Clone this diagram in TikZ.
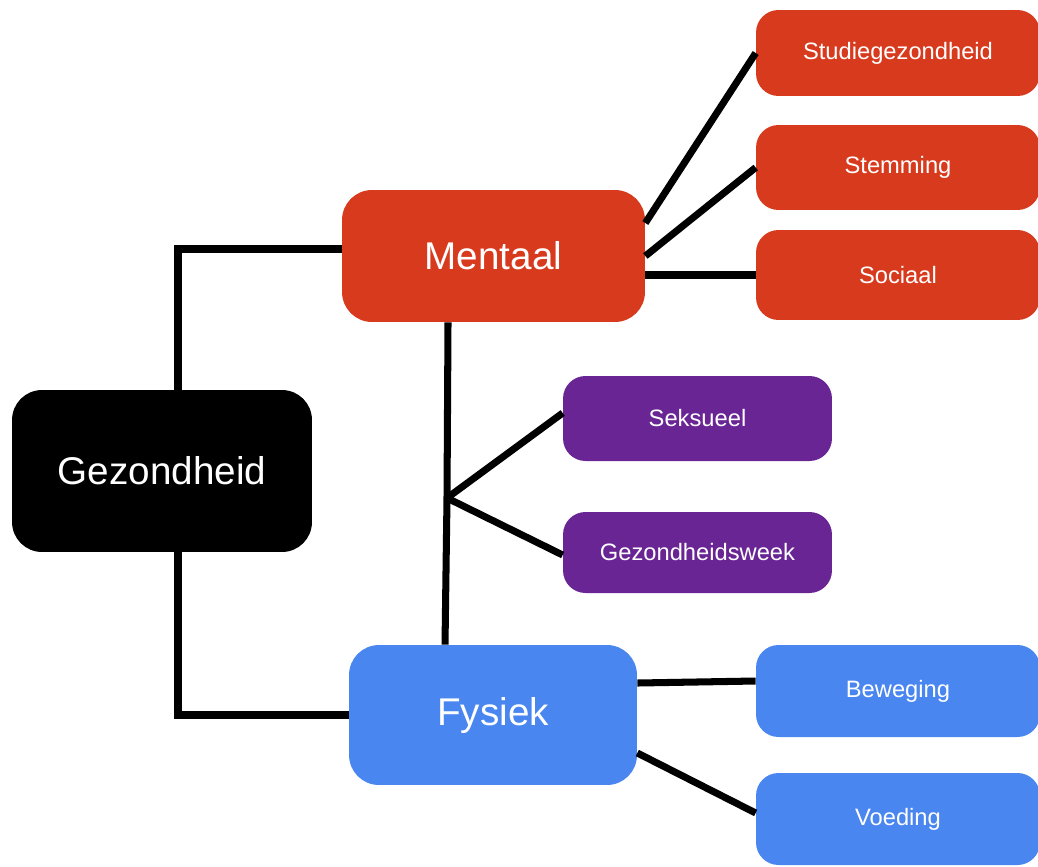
\documentclass[tikz,border=0pt]{standalone}
\usepackage{fontspec}
\setsansfont{Liberation Sans}
\usepackage{xcolor}
\usepackage{tikz}
\usetikzlibrary{positioning, calc}
\definecolor{mentaalred}{RGB}{216, 58, 30}
\definecolor{fysiekblue}{RGB}{74, 134, 240}
\definecolor{seksuuelpurple}{RGB}{106, 37, 149}

\begin{document}
\begin{tikzpicture}[
    x=0.02cm, y=-0.02cm,
    bigbox/.style={rounded corners=0.6cm, inner sep=0pt, align=center, text=white, font=\sffamily\fontsize{22}{26}\selectfont},
    smallbox/.style={rounded corners=0.45cm, inner sep=0pt, align=center, text=white, font=\sffamily\fontsize{13.5}{16}\selectfont, minimum width=5.68cm},
    link/.style={line width=4pt, black}
]
    \useasboundingbox (0,0) rectangle (1038,866);

    % main nodes
    \node[bigbox, fill=black, minimum width=6cm, minimum height=3.24cm] (gez) at (162,471) {Gezondheid};
    \node[bigbox, fill=mentaalred, minimum width=6.06cm, minimum height=2.64cm] (ment) at (493.5,256) {Mentaal};
    \node[bigbox, fill=fysiekblue, minimum width=5.76cm, minimum height=2.8cm] (fys) at (493,715) {Fysiek};

    % mentaal branches
    \node[smallbox, fill=mentaalred, minimum height=1.72cm] (studie) at (898,53) {Studiegezondheid};
    \node[smallbox, fill=mentaalred, minimum height=1.7cm] (stem) at (898,167.5) {Stemming};
    \node[smallbox, fill=mentaalred, minimum height=1.8cm] (soc) at (898,275) {Sociaal};

    % middle branches
    \node[smallbox, fill=seksuuelpurple, minimum width=5.38cm, minimum height=1.7cm] (seks) at (697.5,418.5) {Seksueel};
    \node[smallbox, fill=seksuuelpurple, minimum width=5.38cm, minimum height=1.62cm] (week) at (697.5,552.5) {Gezondheidsweek};

    % fysiek branches
    \node[smallbox, fill=fysiekblue, minimum height=1.84cm] (bew) at (898,691) {Beweging};
    \node[smallbox, fill=fysiekblue, minimum height=1.84cm] (voe) at (898,819) {Voeding};

    \coordinate (split) at (447,498);

    \draw[link] ([xshift=0.32cm]gez.north) |- ([yshift=0.14cm]ment.west);
    \draw[link] ([xshift=0.32cm]gez.south) |- (fys.west);
    \draw[link] ([xshift=-0.91cm]ment.south) -- (split) -- ([xshift=-0.96cm]fys.north);
    \draw[link] (split) -- ([yshift=0.11cm]seks.west);
    \draw[link] (split) -- ([yshift=-0.05cm]week.west);

    \draw[link] ([yshift=0.66cm]ment.east) -- (studie.west);
    \draw[link] (ment.east) -- (stem.west);
    \draw[link] (ment.east |- soc.west) -- (soc.west);

    \draw[link] ([yshift=0.64cm]fys.east) -- ([yshift=0.2cm]bew.west);
    \draw[link] ([yshift=-0.76cm]fys.east) -- ([yshift=0.12cm]voe.west);
\end{tikzpicture}
\end{document}
